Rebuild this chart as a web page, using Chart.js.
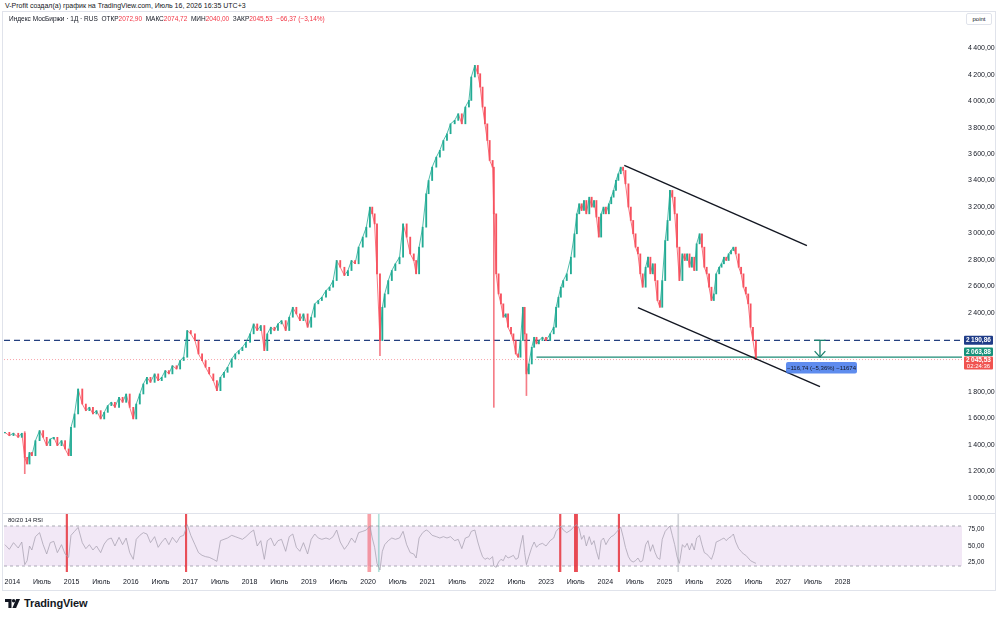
<!DOCTYPE html>
<html lang="ru">
<head>
<meta charset="utf-8">
<title>Индекс МосБиржи</title>
<script src="https://cdn.jsdelivr.net/npm/chart.js@4/dist/chart.umd.min.js"></script>
<style>
*{box-sizing:border-box}
html,body{margin:0;padding:0;background:#fff;}
body{width:1000px;height:618px;position:relative;overflow:hidden;font-family:"Liberation Sans",Arial,sans-serif;color:#131722;}
.abs{position:absolute}
#frame{left:2px;top:11px;width:994px;height:580px;border:1px solid #e0e3eb;}
#sep{left:3px;top:513px;width:992px;height:1px;background:#e0e3eb;}
#credit{left:5px;top:1px;font-size:7px;line-height:10px;white-space:nowrap;}
#legend{left:9px;top:14px;font-size:6.5px;line-height:10px;white-space:nowrap;z-index:3}
#legend .v{color:#f23645}
#rsiLabel{left:8px;top:516px;font-size:6px;line-height:9px;z-index:3}
#unit{left:966px;top:13px;width:26px;height:12px;border:1px solid #e0e3eb;border-radius:2px;font-size:6px;line-height:10px;text-align:center;background:#fff;z-index:3}
#brand{left:5px;top:597px;display:flex;align-items:center;font-weight:bold;font-size:11px;letter-spacing:-0.1px}
#brand svg{margin-right:4px}
#c1wrap{left:0;top:12px;width:1000px;height:502px}
#c2wrap{left:0;top:514px;width:1000px;height:78px}
</style>
</head>
<body>
<div id="frame" class="abs"></div>
<div id="sep" class="abs"></div>
<div id="credit" class="abs">V-Profit создал(а) график на TradingView.com, Июль 16, 2026 16:35 UTC+3</div>
<div id="c1wrap" class="abs"><canvas id="c1" width="1000" height="502"></canvas></div>
<div id="c2wrap" class="abs"><canvas id="c2" width="1000" height="78"></canvas></div>
<div id="legend" class="abs">Индекс МосБиржи · 1Д · RUS&nbsp; ОТКР<span class="v">2072,90</span>&nbsp; МАКС<span class="v">2074,72</span>&nbsp; МИН<span class="v">2040,00</span>&nbsp; ЗАКР<span class="v">2045,53</span>&nbsp; <span class="v">−66,37 (−3,14%)</span></div>
<div id="rsiLabel" class="abs">80/20 14 RSI</div>
<div id="unit" class="abs">point</div>
<div id="brand" class="abs"><svg width="15" height="9" viewBox="0 0 15 9"><path d="M0 0h6.5v9H3.4V3H0z" fill="#131722"/><circle cx="8.6" cy="1.7" r="1.7" fill="#131722"/><path d="M11.2 0H15l-3.9 9H7.4z" fill="#131722"/></svg>TradingView</div>
<script>
// ---------- DATA ----------
const dates = [
2013.875,2013.95,2014.02,2014.10,2014.16,2014.21,2014.25,2014.29,2014.33,2014.39,
2014.46,2014.52,2014.58,2014.64,2014.70,2014.76,2014.83,2014.89,2014.95,2014.99,
2015.05,2015.11,2015.18,2015.24,2015.30,2015.36,2015.42,2015.49,2015.55,2015.61,
2015.67,2015.73,2015.80,2015.86,2015.92,2015.98,2016.04,2016.09,2016.15,2016.21,
2016.27,2016.33,2016.40,2016.46,2016.52,2016.58,2016.64,2016.70,2016.77,2016.83,
2016.89,2016.95,2017.01,2017.08,2017.14,2017.20,2017.26,2017.32,2017.39,2017.45,
2017.51,2017.57,2017.63,2017.70,2017.76,2017.82,2017.88,2017.94,2018.01,2018.07,
2018.13,2018.19,2018.25,2018.30,2018.36,2018.42,2018.48,2018.54,2018.61,2018.67,
2018.73,2018.79,2018.85,2018.91,2018.98,2019.04,2019.10,2019.16,2019.22,2019.29,
2019.35,2019.41,2019.47,2019.53,2019.60,2019.66,2019.72,2019.78,2019.84,2019.91,
2019.97,2020.03,2020.07,2020.11,2020.15,2020.20,2020.24,2020.28,2020.34,2020.40,
2020.46,2020.53,2020.59,2020.65,2020.71,2020.77,2020.81,2020.86,2020.92,2020.98,
2021.02,2021.08,2021.15,2021.21,2021.27,2021.33,2021.39,2021.46,2021.52,2021.58,
2021.64,2021.70,2021.74,2021.80,2021.85,2021.89,2021.93,2021.97,2022.01,2022.05,
2022.10,2022.12,2022.16,2022.20,2022.24,2022.28,2022.32,2022.36,2022.41,2022.45,
2022.49,2022.53,2022.57,2022.61,2022.64,2022.67,2022.71,2022.76,2022.80,2022.84,
2022.88,2022.94,2023.00,2023.07,2023.13,2023.17,2023.21,2023.25,2023.29,2023.35,
2023.42,2023.48,2023.52,2023.56,2023.60,2023.64,2023.68,2023.73,2023.77,2023.81,
2023.85,2023.89,2023.93,2023.97,2024.01,2024.06,2024.10,2024.14,2024.18,2024.22,
2024.26,2024.30,2024.34,2024.39,2024.43,2024.47,2024.51,2024.55,2024.59,2024.63,
2024.68,2024.72,2024.76,2024.80,2024.84,2024.88,2024.92,2024.96,2025.01,2025.05,
2025.09,2025.13,2025.17,2025.21,2025.25,2025.30,2025.34,2025.38,2025.42,2025.46,
2025.50,2025.54,2025.59,2025.63,2025.67,2025.71,2025.75,2025.79,2025.83,2025.87,
2025.92,2025.96,2026.00,2026.04,2026.08,2026.12,2026.16,2026.20,2026.25,2026.29,
2026.33,2026.37,2026.41,2026.45,2026.49,2026.54];

const closes = [
1495,1470,1488,1457,1488,1306,1255,1343,1318,1432,
1508,1457,1394,1444,1457,1394,1432,1369,1318,1533,
1634,1823,1709,1659,1684,1634,1659,1596,1646,1697,
1722,1684,1760,1722,1785,1684,1596,1709,1785,1861,
1911,1873,1937,1886,1911,1962,1937,1999,1974,2038,
2063,2265,2240,2189,2088,2038,1987,1937,1886,1810,
1911,1949,1987,2050,2088,2113,2138,2176,2240,2315,
2265,2303,2113,2240,2290,2265,2315,2340,2265,2366,
2441,2391,2340,2391,2290,2366,2467,2492,2517,2568,
2593,2643,2795,2744,2681,2719,2795,2770,2896,2972,
3047,3199,3148,3072,2694,2189,2441,2542,2643,2719,
2770,2820,3072,2972,2845,2795,2694,2896,3047,3300,
3400,3501,3577,3628,3703,3754,3829,3855,3905,3829,
3956,4006,4183,4271,4208,4107,3956,3829,3703,3552,
3501,3148,2694,2542,2467,2366,2391,2290,2240,2189,
2088,2063,2189,2441,2240,1937,2012,2138,2214,2164,
2189,2214,2189,2240,2290,2441,2517,2593,2643,2694,
2820,2997,3148,3224,3173,3249,3148,3274,3199,3249,
3123,2972,3148,3199,3148,3224,3274,3325,3401,3451,
3501,3476,3375,3199,3098,2997,2896,2845,2694,2593,
2744,2820,2694,2770,2643,2492,2441,2643,2946,3098,
3325,3274,3148,2896,2643,2845,2795,2845,2744,2820,
2719,2921,2997,2896,2744,2694,2593,2492,2542,2694,
2744,2770,2820,2795,2845,2870,2896,2845,2744,2694,
2593,2542,2467,2290,2189,2045.53];

const rsiValues = [
52,45,55,47,56,22,28,50,44,64,
70,52,38,55,57,40,52,38,33,66,
72,78,55,46,52,44,50,40,53,60,
62,50,63,52,62,40,30,60,66,70,
68,55,64,48,56,62,52,63,55,64,
66,82,66,52,40,36,34,33,30,27,
58,60,62,66,64,62,60,64,70,74,
50,58,30,58,62,50,58,60,42,64,
68,48,42,55,38,60,68,62,60,62,
60,64,74,56,45,52,62,55,70,72,
74,80,62,48,24,14,42,52,58,62,
60,62,72,52,40,38,32,62,70,74,
72,66,64,62,64,62,64,58,60,46,
62,64,72,74,56,44,34,30,32,30,
34,20,18,26,30,28,36,32,34,36,
30,32,50,66,40,22,34,48,56,48,
52,54,50,58,62,72,76,80,74,70,
74,80,82,76,60,66,50,64,52,58,
42,30,58,62,52,60,64,66,70,74,
78,64,48,34,28,26,28,32,26,28,
52,58,42,52,40,32,30,60,72,76,
80,66,52,34,24,52,48,54,44,54,
44,62,66,52,40,38,34,30,40,56,
58,60,62,58,62,64,68,56,46,42,
38,36,32,28,26,24];

const firstOpen = 1490;
const wickDates = [2014.21, 2020.20, 2022.12, 2022.67];
const wickLows  = [1182, 2075, 1684, 1773];
const wickHighs = [1500, 2560, 3150, 2050];

const priceTicks = [1000,1200,1400,1600,1800,2400,2600,2800,3000,3200,3400,3600,3800,4000,4200,4400];
const rsiTicks = [25,50,75];
const timeTicks = [2014,2014.5,2015,2015.5,2016,2016.5,2017,2017.5,2018,2018.5,2019,2019.5,2020,2020.5,2021,2021.5,2022,2022.5,2023,2023.5,2024,2024.5,2025,2025.5,2026,2026.5,2027,2027.5,2028];
const timeLabels = ['2014','Июль','2015','Июль','2016','Июль','2017','Июль','2018','Июль','2019','Июль','2020','Июль','2021','Июль','2022','Июль','2023','Июль','2024','Июль','2025','Июль','2026','Июль','2027','Июль','2028'];

const levelBlue = 2190.86;
const levelGreen = 2063.88;
const levelGreenStart = 2022.84;
const lastClose = 2045.53;
const countdown = '02:24:36';
const trendUpper = [[2024.32, 3514], [2027.40, 2908]];
const trendLower = [[2024.55, 2439], [2027.62, 1841]];
const measureX = 2027.62;
const measureText = '−116,74 (−5,36%) −11674';
const rsiBandHigh = 80, rsiBandLow = 20;
const rsiAlertDates = [2014.92, 2016.93, 2023.24, 2023.49, 2023.52, 2024.23];
const rsiAlertWide = [2020.02];
const rsiMarkGreen = [2020.18];
const rsiMarkGray = [2025.23];

const X_MIN = 2013.86, X_MAX = 2030.015;
const P_MIN = 877, P_MAX = 4675;
const R_MIN = 11, R_MAX = 98;

// ---------- HELPERS ----------
const fmt = v => { const s = Number(v).toFixed(2).split('.'); return s[0].replace(/\B(?=(\d{3})+(?!\d))/g, '\u202F') + ',' + s[1]; };
const FONT = '"Liberation Sans", Arial, sans-serif';
Chart.defaults.font.family = FONT;
Chart.defaults.color = '#131722';
const UP = '#22ab94', DOWN = '#f7525f';
const opens = closes.map((c, i) => i ? closes[i - 1] : firstOpen);
const candleColors = closes.map((c, i) => c >= opens[i] ? UP : DOWN);
const pts = arr => arr.map(p => ({x: p[0], y: p[1]}));
const hline = (y, x0, x1) => [{x: x0, y: y}, {x: x1, y: y}];
const noPad = s => { s.paddingTop = 0; s.paddingBottom = 0; s.paddingLeft = 0; s.paddingRight = 0; };

function rbox(ctx, x, y, w, h, r, fill) {
  ctx.beginPath();
  ctx.moveTo(x + r, y); ctx.lineTo(x + w - r, y); ctx.quadraticCurveTo(x + w, y, x + w, y + r);
  ctx.lineTo(x + w, y + h - r); ctx.quadraticCurveTo(x + w, y + h, x + w - r, y + h);
  ctx.lineTo(x + r, y + h); ctx.quadraticCurveTo(x, y + h, x, y + h - r);
  ctx.lineTo(x, y + r); ctx.quadraticCurveTo(x, y, x + r, y); ctx.closePath();
  ctx.fillStyle = fill; ctx.fill();
}

const tagPlugin = {
  id: 'tags',
  afterDraw(chart) {
    const {ctx, scales: {x, y}} = chart;
    ctx.save();
    const bx = 964, bw = 29;
    ctx.textAlign = 'center'; ctx.textBaseline = 'middle';
    const yb = y.getPixelForValue(levelBlue);
    rbox(ctx, bx, yb - 4.5, bw, 9, 1, '#1f3c88');
    ctx.fillStyle = '#fff'; ctx.font = 'bold 6.5px ' + FONT;
    ctx.fillText(fmt(levelBlue), bx + bw / 2, yb + 0.3);
    const yr = y.getPixelForValue(lastClose);
    const rt = yr - 3;
    rbox(ctx, bx, rt, bw, 13, 1, '#f05350');
    ctx.fillStyle = '#fff';
    ctx.fillText(fmt(lastClose), bx + bw / 2, rt + 3.6);
    ctx.font = '6px ' + FONT;
    ctx.fillText(countdown, bx + bw / 2, rt + 9.6);
    rbox(ctx, bx, rt - 9, bw, 8.5, 1, '#17917a');
    ctx.fillStyle = '#fff'; ctx.font = 'bold 6.5px ' + FONT;
    ctx.fillText(fmt(levelGreen), bx + bw / 2, rt - 4.6);
    const mx = x.getPixelForValue(measureX), my = y.getPixelForValue(levelGreen);
    rbox(ctx, mx - 34, my + 5, 71, 11.5, 2, 'rgba(66,120,235,0.85)');
    ctx.fillStyle = '#131722'; ctx.font = '6px ' + FONT;
    ctx.fillText(measureText, mx + 1.5, my + 11);
    ctx.restore();
  }
};

const lineDs = (data, color, width, extra) => Object.assign({type: 'line', data, borderColor: color, borderWidth: width, pointRadius: 0, fill: false, tension: 0}, extra || {});

// ---------- MAIN PRICE CHART ----------
new Chart(document.getElementById('c1'), {
  type: 'line',
  data: {datasets: [
    lineDs(hline(lastClose, X_MIN, X_MAX), 'rgba(242,54,69,0.45)', 1, {borderDash: [1, 2], order: 10}),
    lineDs(hline(levelBlue, X_MIN, X_MAX), '#24407f', 1.3, {borderDash: [6, 4], order: 9}),
    lineDs(hline(levelGreen, levelGreenStart, X_MAX), '#1b8a75', 1.4, {order: 9}),
    {type: 'bar', data: wickDates.map((d, i) => ({x: d, y: [wickLows[i], wickHighs[i]]})), backgroundColor: 'rgba(242,82,95,0.75)', barThickness: 1, grouped: false, order: 7},
    lineDs(dates.map((d, i) => ({x: d, y: closes[i]})), UP, 0.8, {order: 6,
      segment: {borderColor: c => c.p1.parsed.y >= c.p0.parsed.y ? UP : DOWN}}),
    {type: 'bar', data: dates.map((d, i) => ({x: d, y: [opens[i], closes[i]]})), backgroundColor: candleColors, barThickness: 1.2, grouped: false, order: 5},
    lineDs(pts(trendUpper), '#131722', 1.4, {order: 2}),
    lineDs(pts(trendLower), '#131722', 1.4, {order: 2}),
    lineDs([{x: measureX, y: levelBlue}, {x: measureX, y: levelGreen}], '#1b7f6d', 1.3, {order: 1}),
    lineDs([{x: measureX - 0.096, y: levelBlue}, {x: measureX + 0.096, y: levelBlue}], '#1b7f6d', 1.3, {order: 1}),
    lineDs([{x: measureX - 0.09, y: levelGreen + 45}, {x: measureX, y: levelGreen}, {x: measureX + 0.09, y: levelGreen + 45}], '#1b7f6d', 1.3, {order: 1})
  ]},
  options: {
    responsive: false, animation: false, devicePixelRatio: 1,
    layout: {padding: {left: 4, right: 5, top: 0, bottom: 0}},
    plugins: {legend: {display: false}, tooltip: {enabled: false}},
    scales: {
      x: {type: 'linear', min: X_MIN, max: X_MAX, display: false, offset: false},
      y: {type: 'linear', position: 'right', min: P_MIN, max: P_MAX,
        grid: {display: false, drawTicks: false}, border: {display: false},
        afterFit(s) { s.width = 33; noPad(s); },
        afterBuildTicks(s) { s.ticks = priceTicks.map(v => ({value: v})); },
        ticks: {callback: v => fmt(v), font: {size: 7}, color: '#131722', padding: 6}}
    }
  },
  plugins: [tagPlugin]
});

// ---------- RSI PANE + TIME AXIS ----------
const vbars = (arr, color, w) => ({type: 'bar', data: arr.map(d => ({x: d, y: [R_MIN, R_MAX]})), backgroundColor: color, barThickness: w, grouped: false, order: 3});
new Chart(document.getElementById('c2'), {
  type: 'line',
  data: {datasets: [
    lineDs(hline(rsiBandHigh, X_MIN, X_MAX), '#a9abb3', 1, {borderDash: [3, 3], fill: '+1', backgroundColor: 'rgba(196,150,214,0.22)', order: 5}),
    lineDs(hline(rsiBandLow, X_MIN, X_MAX), '#a9abb3', 1, {borderDash: [3, 3], order: 5}),
    vbars(rsiMarkGray, 'rgba(190,192,200,0.7)', 1),
    vbars(rsiMarkGreen, 'rgba(34,171,148,0.35)', 1),
    vbars(rsiAlertWide, 'rgba(242,82,95,0.55)', 3),
    vbars(rsiAlertDates, 'rgba(230,50,60,0.85)', 1.5),
    lineDs(dates.map((d, i) => ({x: d, y: rsiValues[i]})), 'rgba(168,162,178,0.85)', 0.9, {order: 1})
  ]},
  options: {
    responsive: false, animation: false, devicePixelRatio: 1,
    layout: {padding: {left: 4, right: 5, top: 0, bottom: 0}},
    plugins: {legend: {display: false}, tooltip: {enabled: false}},
    scales: {
      x: {type: 'linear', min: X_MIN, max: X_MAX, offset: false,
        grid: {display: false, drawTicks: false}, border: {display: false},
        afterFit(s) { s.height = 20; noPad(s); },
        afterBuildTicks(s) { s.ticks = timeTicks.map(v => ({value: v})); },
        ticks: {autoSkip: false, maxRotation: 0, minRotation: 0, padding: 6, font: {size: 7}, color: '#131722',
          callback: (v, i) => timeLabels[i]}},
      y: {type: 'linear', position: 'right', min: R_MIN, max: R_MAX,
        grid: {display: false, drawTicks: false}, border: {display: false},
        afterFit(s) { s.width = 33; noPad(s); },
        afterBuildTicks(s) { s.ticks = rsiTicks.map(v => ({value: v})); },
        ticks: {callback: v => fmt(v), font: {size: 6.5}, color: '#131722', padding: 6}}
    }
  }
});
</script>
</body>
</html>
